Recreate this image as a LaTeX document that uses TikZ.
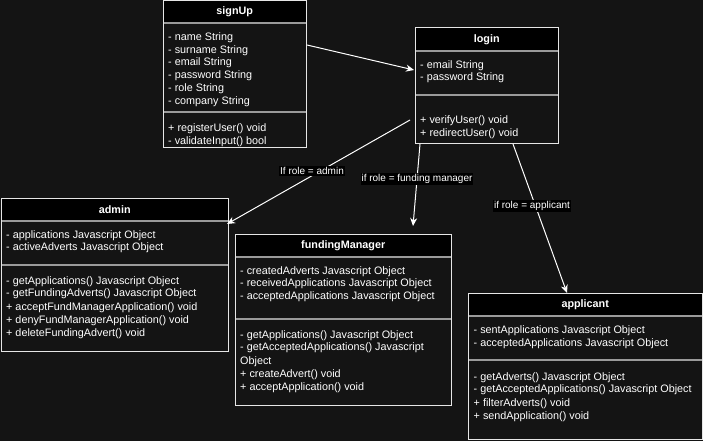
\documentclass[tikz,border=0pt]{standalone}
\usepackage{fontspec}
\setmainfont{Liberation Sans}
\usetikzlibrary{arrows.meta}
\definecolor{bg}{HTML}{141414}
\definecolor{bord}{HTML}{E6E6E6}
\definecolor{sepc}{HTML}{9A9A9A}
\begin{document}
\begin{tikzpicture}[x=1pt,y=-1pt,
  txt/.style={anchor=base west,inner sep=0,text=white,font=\fontsize{10.8}{13}\selectfont},
  hdr/.style={anchor=north west,fill=black,text=white,font=\fontsize{10.8}{13}\selectfont\bfseries,inner sep=0},
  lbl/.style={fill=black,text=white,font=\fontsize{10}{12}\selectfont,inner sep=1pt},
  sepline/.style={draw=sepc,line width=1.4pt},
  border/.style={draw=bord,line width=1pt},
  conn/.style={draw=white,line width=1pt,-{Stealth[length=8pt,width=7pt,inset=2.5pt]}}]
\fill[bg] (0,0) rectangle (703,441);
\useasboundingbox (0,0) rectangle (703,441);

% signUp
\node[hdr,minimum width=143,minimum height=22] (signUp) at (163,1) {signUp};
\draw[sepline] (163,23) -- (306,23);
\draw[sepline] (163,112) -- (306,112);
\draw[border] (163,1) rectangle (306,147);
\node[txt] (s1) at (168,40.5) {- name String};
\node[txt] (s2) at (168,53.2) {- surname String};
\node[txt] (s3) at (168,65.9) {- email String};
\node[txt] (s4) at (168,78.6) {- password String};
\node[txt] (s5) at (168,91.3) {- role String};
\node[txt] (s6) at (168,104) {- company String};
\node[txt] (s7) at (168,131.5) {+ registerUser() void};
\node[txt] (s8) at (168,144) {- validateInput() bool};

% login
\node[hdr,minimum width=143,minimum height=23] (login) at (415,28) {login};
\draw[sepline] (415,51) -- (558,51);
\draw[sepline] (415,95) -- (558,95);
\draw[border] (415,28) rectangle (558,143);
\node[txt] (l1) at (420,68.3) {- email String};
\node[txt] (l2) at (420,80.7) {- password String};
\node[txt] (l3) at (420,123.3) {+ verifyUser() void};
\node[txt] (l4) at (420,136.3) {+ redirectUser() void};

% admin
\node[hdr,minimum width=227,minimum height=23] (admin) at (1,198) {admin};
\draw[sepline] (1,221) -- (228,221);
\draw[sepline] (1,265) -- (228,265);
\draw[border] (1,198) rectangle (228,351);
\node[txt] (a1) at (6,238.3) {- applications Javascript Object};
\node[txt] (a2) at (6,250.3) {- activeAdverts Javascript Object};
\node[txt] (a3) at (6,284) {- getApplications() Javascript Object};
\node[txt] (a4) at (6,296.7) {- getFundingAdverts() Javascript Object};
\node[txt] (a5) at (6,310.7) {+ acceptFundManagerApplication() void};
\node[txt] (a6) at (6,323) {+ denyFundManagerApplication() void};
\node[txt] (a7) at (6,336.3) {+ deleteFundingAdvert() void};

% fundingManager
\node[hdr,minimum width=216,minimum height=23] (fundingManager) at (235,234) {fundingManager};
\draw[sepline] (235,257) -- (451,257);
\draw[sepline] (235,319) -- (451,319);
\draw[border] (235,234) rectangle (451,405);
\node[txt] (f1) at (240,274) {- createdAdverts Javascript Object};
\node[txt] (f2) at (240,286.3) {- receivedApplications Javascript Object};
\node[txt] (f3) at (240,299.7) {- acceptedApplications Javascript Object};
\node[txt] (f4) at (240,338) {- getApplications() Javascript Object};
\node[txt] (f5) at (240,350.7) {- getAcceptedApplications() Javascript};
\node[txt] (f6) at (240,364.7) {Object};
\node[txt] (f7) at (240,377.3) {+ createAdvert() void};
\node[txt] (f8) at (240,390.7) {+ acceptApplication() void};

% applicant
\node[hdr,minimum width=234,minimum height=23] (applicant) at (468,293) {applicant};
\draw[sepline] (468,316) -- (702,316);
\draw[sepline] (468,360) -- (702,360);
\draw[border] (468,293) rectangle (702,439);
\node[txt] (p1) at (473.5,333.3) {- sentApplications Javascript Object};
\node[txt] (p2) at (473.5,346.3) {- acceptedApplications Javascript Object};
\node[txt] (p3) at (473.5,380) {- getAdverts() Javascript Object};
\node[txt] (p4) at (473.5,392.3) {- getAcceptedApplications() Javascript Object};
\node[txt] (p5) at (473.5,406.3) {+ filterAdverts() void};
\node[txt] (p6) at (473.5,419.7) {+ sendApplication() void};

% connectors
\coordinate (c1a) at (307,45);
\coordinate (c1b) at (414,70);
\coordinate (c2a) at (410,120);
\coordinate (c2b) at (227,224);
\coordinate (c3a) at (420,144);
\coordinate (c3b) at (413,226);
\coordinate (c4a) at (513,144);
\coordinate (c4b) at (567,293);
\draw[conn] (c1a) -- (c1b);
\draw[conn] (c2a) -- (c2b);
\draw[conn] (c3a) -- (c3b);
\draw[conn] (c4a) -- (c4b);
\node[lbl] (lb1) at (312,171) {If role = admin};
\node[lbl] (lb2) at (417,179) {if role = funding manager};
\node[lbl] (lb3) at (532,206) {if role = applicant};
\end{tikzpicture}
\end{document}
